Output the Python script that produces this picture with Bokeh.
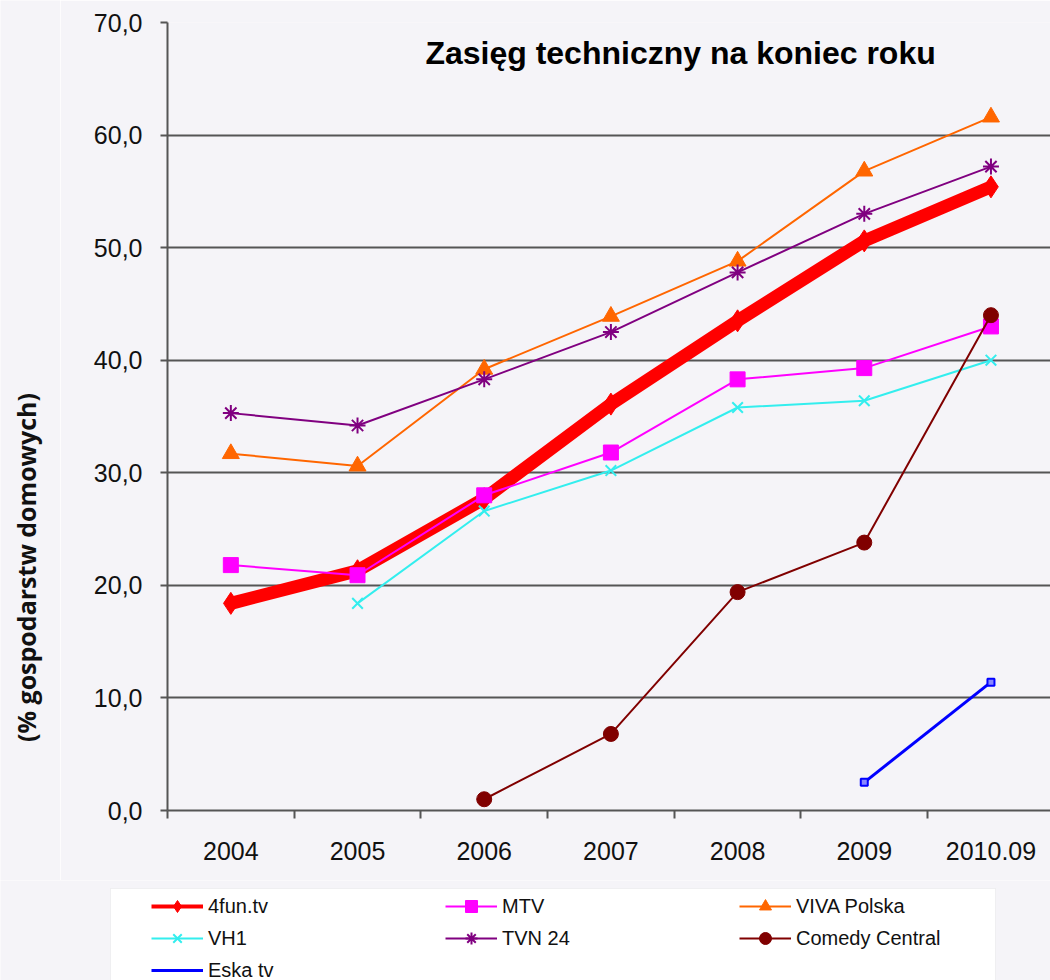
import math
from bokeh.plotting import figure
from bokeh.layouts import column, row
from bokeh.models import (Range1d, FixedTicker, Label, Legend, LegendItem,
                          BoxAnnotation, ColumnDataSource)
from bokeh.embed import file_html
from bokeh.resources import INLINE

nan = float("nan")

categories = ["2004", "2005", "2006", "2007", "2008", "2009", "2010.09"]
fun4 = [18.4, 21.3, 27.7, 36.1, 43.5, 50.6, 55.4]
mtv = [21.8, 20.9, 28.0, 31.8, 38.3, 39.3, 43.0]
viva = [31.7, 30.6, 39.2, 43.9, 48.8, 56.8, 61.6]
vh1 = [nan, 18.4, 26.6, 30.2, 35.8, 36.4, 40.0]
tvn24 = [35.3, 34.2, 38.3, 42.5, 47.8, 53.0, 57.2]
comedy = [nan, nan, 1.0, 6.8, 19.4, 23.8, 44.0]
eska = [nan, nan, nan, nan, nan, 2.5, 11.4]
y_ticks = [0, 10, 20, 30, 40, 50, 60, 70]
y_labels = ["0,0", "10,0", "20,0", "30,0", "40,0", "50,0", "60,0", "70,0"]

title_text = "Zasięg techniczny na koniec roku"
y_title = "(% gospodarstw domowych)"

BG = "#f5f4f8"
FONT = "Liberation Sans"
AX = "#555555"

xs = [i + 0.5 for i in range(len(categories))]

# ---- narrow strip holding the vertical axis title ----
yl = figure(width=60, height=880, output_backend="svg", toolbar_location=None,
            x_range=Range1d(0, 60), y_range=Range1d(0, 880),
            x_axis_type=None, y_axis_type=None,
            min_border_left=0, min_border_right=0, min_border_top=0,
            min_border_bottom=0)
yl.frame_align = False
yl.background_fill_color = BG
yl.border_fill_color = BG
yl.outline_line_color = None
yl.xgrid.visible = False
yl.ygrid.visible = False
yl.add_layout(Label(x=25, y=313, text=y_title, angle=math.pi / 2,
                    text_font="Open Sans", text_font_size="25px",
                    text_font_style="bold", text_align="center",
                    text_baseline="middle", text_color="#111111"))

# ---- main chart ----
p = figure(width=990, height=880, output_backend="svg", toolbar_location=None,
           x_range=Range1d(0, 6.97), y_range=Range1d(0, 70),
           min_border_left=107, min_border_right=0, min_border_top=22,
           min_border_bottom=70)
p.frame_align = False
p.background_fill_color = BG
p.border_fill_color = BG
p.outline_line_color = None

p.xaxis.ticker = FixedTicker(ticks=xs, minor_ticks=list(range(len(categories))))
p.xaxis.major_label_overrides = {x: c for x, c in zip(xs, categories)}
p.xaxis.major_tick_out = 0
p.xaxis.major_tick_in = 0
p.xaxis.minor_tick_out = 8
p.xaxis.minor_tick_in = 0
p.xaxis.minor_tick_line_color = AX
p.xaxis.minor_tick_line_width = 2
p.xaxis.axis_line_color = AX
p.xaxis.axis_line_width = 2
p.xaxis.major_label_text_font = FONT
p.xaxis.major_label_text_font_size = "25px"
p.xaxis.major_label_text_color = "#111111"
p.xaxis.major_label_standoff = 23

p.yaxis.ticker = FixedTicker(ticks=y_ticks, minor_ticks=[])
p.yaxis.major_label_overrides = {t: l for t, l in zip(y_ticks, y_labels)}
p.yaxis.major_tick_out = 7
p.yaxis.major_tick_in = 0
p.yaxis.major_tick_line_color = AX
p.yaxis.major_tick_line_width = 2
p.yaxis.axis_line_color = AX
p.yaxis.axis_line_width = 2
p.yaxis.major_label_text_font = FONT
p.yaxis.major_label_text_font_size = "25px"
p.yaxis.major_label_text_color = "#111111"
p.yaxis.major_label_standoff = 18

p.xgrid.grid_line_color = None
p.ygrid.ticker = FixedTicker(ticks=y_ticks)
p.ygrid.grid_line_color = AX
p.ygrid.grid_line_width = 2

# series
p.line(xs, fun4, line_color="#ff0000", line_width=13)
p.scatter(xs, fun4, marker="diamond", size=22, fill_color="#ff0000", line_color="#ff0000")

series = [
    ("MTV", mtv, "#ff00ff", "square", 15, 2),
    ("VIVA Polska", viva, "#ff6600", "triangle", 17, 2),
    ("VH1", vh1, "#33eeee", "x", 15, 2),
    ("TVN 24", tvn24, "#800080", "asterisk", 16, 2),
    ("Comedy Central", comedy, "#800000", "circle", 15, 2),
    ("Eska tv", eska, "#0000ff", "dash", 9, 3),
]
for name, vals, col, mk, sz, lw in series:
    pts = [(x, v) for x, v in zip(xs, vals) if not math.isnan(v)]
    src = ColumnDataSource(dict(x=[a for a, _ in pts], y=[b for _, b in pts]))
    p.line("x", "y", source=src, line_color=col, line_width=lw)
    if mk == "dash":
        p.scatter("x", "y", source=src, marker="square", size=7,
                  fill_color="#8888ff", line_color=col, line_width=2)
    elif mk in ("x", "asterisk"):
        p.scatter("x", "y", source=src, marker=mk, size=sz,
                  line_color=col, line_width=2)
    else:
        p.scatter("x", "y", source=src, marker=mk, size=sz,
                  fill_color=col, line_color=col)

p.add_layout(Label(x=4.05, y=67.3, text=title_text, text_font=FONT,
                   text_font_size="32px", text_font_style="bold",
                   text_align="center", text_baseline="middle",
                   text_color="#000000"))

# ---- legend strip (separate figure, pixel coordinates) ----
lg = figure(width=1050, height=100, output_backend="svg", toolbar_location=None,
            x_range=Range1d(0, 1050), y_range=Range1d(0, 100),
            x_axis_type=None, y_axis_type=None,
            min_border_left=0, min_border_right=0, min_border_top=0,
            min_border_bottom=0)
lg.frame_align = False
lg.background_fill_color = BG
lg.border_fill_color = BG
lg.outline_line_color = None
lg.xgrid.visible = False
lg.ygrid.visible = False

lg.add_layout(BoxAnnotation(left=110, right=995, top=92, bottom=-20,
                            fill_color="white", fill_alpha=1.0,
                            line_color="#d8d8d8", line_width=1))

items = []
leg_styles = [
    ("4fun.tv", "#ff0000", 4, "diamond"),
    ("MTV", "#ff00ff", 2, "square"),
    ("VIVA Polska", "#ff6600", 2, "triangle"),
    ("VH1", "#33eeee", 2, "x"),
    ("TVN 24", "#800080", 2, "asterisk"),
    ("Comedy Central", "#800000", 2, "circle"),
    ("Eska tv", "#0000ff", 3, "dash"),
]
for name, col, lw, mk in leg_styles:
    # legend-only proxies: a single undefined point, nothing is drawn on the strip
    src = ColumnDataSource(dict(x=[nan], y=[nan]))
    rl = lg.line("x", "y", source=src, line_color=col, line_width=lw)
    if mk in ("x", "asterisk", "dash"):
        rm = lg.scatter("x", "y", source=src, marker=mk,
                        line_color=col, line_width=2)
    else:
        rm = lg.scatter("x", "y", source=src, marker=mk,
                        fill_color=col, line_color=col)
    items.append(LegendItem(label=name, renderers=[rl, rm]))

legend = Legend(items=items, orientation="horizontal", ncols=3,
                location=(151, -5), padding=2, spacing=2, margin=0,
                glyph_width=52, glyph_height=30, label_height=30,
                label_width=235, label_standoff=5,
                label_text_font=FONT, label_text_font_size="20px",
                label_text_color="#111111",
                background_fill_alpha=0, border_line_color=None)
lg.add_layout(legend)

layout = column(row(yl, p, spacing=0), lg, spacing=0)
open("out.html", "w").write(file_html(layout, INLINE))
